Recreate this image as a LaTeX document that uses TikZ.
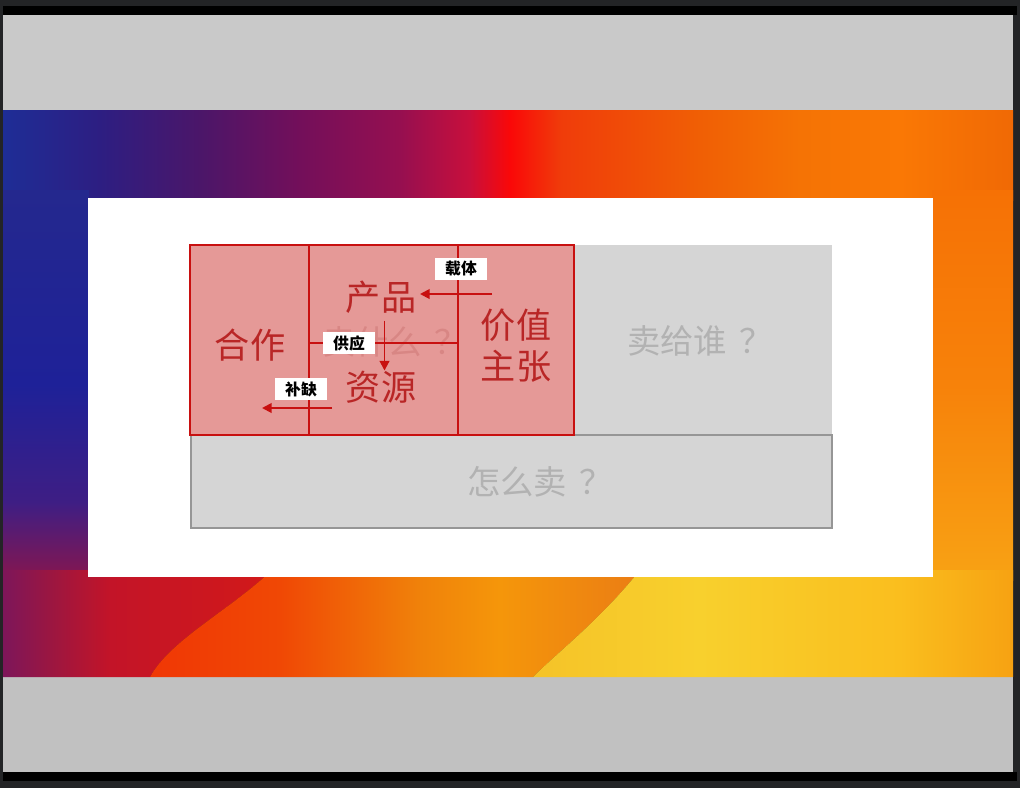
\documentclass[tikz,border=0pt]{standalone}
\usepackage{fontspec}
\newfontfamily\cjk{Noto Sans CJK SC}
\usetikzlibrary{arrows.meta}

% colores
\definecolor{frame}{RGB}{35,36,38}
\definecolor{bandgray}{RGB}{201,201,201}
\definecolor{lowgray}{RGB}{193,193,193}
\definecolor{boxred}{RGB}{200,16,16}
\definecolor{boxfill}{RGB}{229,153,151}
\definecolor{txtred}{RGB}{185,38,38}
\definecolor{hidetxt}{RGB}{216,134,132}
\definecolor{boxgray}{RGB}{213,213,213}
\definecolor{txtgray}{RGB}{178,178,178}
\definecolor{edgegray}{RGB}{150,150,150}

% degradado superior
\definecolor{g0}{RGB}{30,45,150}
\definecolor{g1}{RGB}{45,30,130}
\definecolor{g2}{RGB}{75,22,105}
\definecolor{g3}{RGB}{115,15,90}
\definecolor{g4}{RGB}{150,15,80}
\definecolor{g5}{RGB}{200,15,60}
\definecolor{g6}{RGB}{250,8,8}
\definecolor{g7}{RGB}{240,60,10}
\definecolor{g8}{RGB}{240,95,5}
\definecolor{g9}{RGB}{245,115,5}
\definecolor{g10}{RGB}{250,120,5}
\definecolor{g11}{RGB}{240,105,5}
\pgfdeclarehorizontalshading{bgtop}{100bp}{color(0bp)=(g0); color(25bp)=(g0);
  color(29.8bp)=(g1); color(34.75bp)=(g2); color(39.7bp)=(g3); color(44.65bp)=(g4);
  color(48.1bp)=(g5); color(50.1bp)=(g6); color(52.6bp)=(g7); color(59.5bp)=(g8);
  color(64.45bp)=(g9); color(69.4bp)=(g10); color(75bp)=(g11); color(100bp)=(g11)}

% columna izquierda
\definecolor{l0}{RGB}{36,40,142}
\definecolor{l1}{RGB}{30,33,152}
\definecolor{l2}{RGB}{62,30,132}
\definecolor{l3}{RGB}{135,22,78}
\pgfdeclareverticalshading{bgleft}{100bp}{color(0bp)=(l3); color(25bp)=(l3);
  color(35bp)=(l2); color(50bp)=(l1); color(75bp)=(l0); color(100bp)=(l0)}

% columna derecha
\definecolor{r0}{RGB}{246,113,5}
\definecolor{r1}{RGB}{247,130,10}
\definecolor{r2}{RGB}{248,162,20}
\pgfdeclareverticalshading{bgright}{100bp}{color(0bp)=(r2); color(25bp)=(r2);
  color(50bp)=(r1); color(75bp)=(r0); color(100bp)=(r0)}

% zonas inferiores
\definecolor{c0}{RGB}{125,22,90}
\definecolor{c1}{RGB}{155,22,65}
\definecolor{c2}{RGB}{195,20,40}
\definecolor{c3}{RGB}{210,25,25}
\pgfdeclarehorizontalshading{bgcrimson}{100bp}{color(0bp)=(c0); color(25bp)=(c0);
  color(33.8bp)=(c1); color(45bp)=(c2); color(75bp)=(c3); color(100bp)=(c3)}
\definecolor{o0}{RGB}{240,55,5}
\definecolor{o1}{RGB}{240,72,5}
\definecolor{o2}{RGB}{240,130,10}
\definecolor{o3}{RGB}{245,150,10}
\definecolor{o4}{RGB}{235,125,20}
\pgfdeclarehorizontalshading{bgorange}{100bp}{color(0bp)=(o0); color(25bp)=(o0);
  color(38.3bp)=(o1); color(52.6bp)=(o2); color(60.7bp)=(o3); color(75bp)=(o4); color(100bp)=(o4)}
\definecolor{y0}{RGB}{245,195,40}
\definecolor{y1}{RGB}{248,208,45}
\definecolor{y2}{RGB}{250,190,30}
\definecolor{y3}{RGB}{247,162,18}
\pgfdeclarehorizontalshading{bgyellow}{100bp}{color(0bp)=(y0); color(25bp)=(y0);
  color(42.4bp)=(y1); color(63.2bp)=(y2); color(75bp)=(y3); color(100bp)=(y3)}

\begin{document}
\begin{tikzpicture}[
  x=0.02cm, y=-0.02cm,
  redtxt/.style={text=txtred, font=\cjk\fontsize{20}{23.3}\selectfont, inner sep=0pt, align=center},
  graytxt/.style={text=txtgray, font=\cjk\fontsize{19}{21}\selectfont, inner sep=0pt},
  tag/.style={fill=white, text=black, font=\cjk\bfseries\fontsize{9}{10}\selectfont,
    minimum width=1.04cm, minimum height=0.44cm, inner sep=0pt},
  arr/.style={draw=boxred, line width=1.1pt, -{Triangle[length=5.5pt,width=5.5pt]}},
  sep/.style={draw=boxred, line width=1.1pt}
]
  \useasboundingbox (0,0) rectangle (1020,788);

  % marco y franjas grises
  \fill[frame] (0,0) rectangle (1020,788);
  \fill[black] (3,6) rectangle (1017,15);
  \fill[bandgray] (3,15) rectangle (1013,110);
  \fill[lowgray] (3,677) rectangle (1013,772);
  \fill[black] (3,772) rectangle (1017,781);

  % fondo degradado
  \shade[shading=bgtop] (3,110) rectangle (1013,200);
  \shade[shading=bgleft] (3,190) rectangle (89,580);
  \shade[shading=bgright] (932,190) rectangle (1013,580);
  \shade[shading=bgcrimson] (3,570) -- (272,570) .. controls (230,610) and (170,640) .. (150,677) -- (3,677) -- cycle;
  \shade[shading=bgorange] (272,570) -- (640,570) .. controls (600,620) and (560,650) .. (533,677)
    -- (150,677) .. controls (170,640) and (230,610) .. (272,570) -- cycle;
  \shade[shading=bgyellow] (640,570) -- (1013,570) -- (1013,677) -- (533,677)
    .. controls (560,650) and (600,620) .. (640,570) -- cycle;

  % diapositiva
  \fill[white] (88,198) rectangle (933,577);

  % cajas
  \fill[boxgray] (574,245) rectangle (832,435);
  \filldraw[fill=boxgray, draw=edgegray, line width=1.2pt] (191,435) rectangle (832,528);
  \filldraw[fill=boxfill, draw=boxred, line width=1.2pt] (190,245) rectangle (574,435);

  % textos
  \node[graytxt, text=hidetxt] (maishenme) at (395,342) {卖什么\hspace{7pt}？};
  \node[graytxt] (maigeishui) at (700,341) {卖给谁\hspace{7pt}？};
  \node[graytxt] (zenmemai) at (540,482) {怎么卖\hspace{7pt}？};
  \node[redtxt] (hezuo) at (250,345) {合作};
  \node[redtxt] (chanpin) at (381,297) {产品};
  \node[redtxt] (ziyuan) at (381,387) {资源};
  \node[redtxt] (jiazhi) at (516,346) {价值\\主张};

  % divisiones
  \draw[sep] (309,245) -- (309,435);
  \draw[sep] (458,245) -- (458,435);
  \draw[sep] (309,343) -- (458,343);

  % flechas
  \coordinate (zt-start) at (492,294);
  \coordinate (bq-start) at (332,408);
  \coordinate (bq-end) at (262,408);
  \draw[arr, shorten >=2pt] (zt-start) -- (zt-start -| chanpin.east);
  \draw[arr, shorten <=4pt] ([xshift=2pt]chanpin.south) -- ([xshift=2pt]ziyuan.north);
  \draw[arr] (bq-start) -- (bq-end);

  % etiquetas
  \node[tag] (zaiti) at (461,269) {载体};
  \node[tag] (gongying) at (349,343) {供应};
  \node[tag] (buque) at (301,389) {补缺};
\end{tikzpicture}
\end{document}
